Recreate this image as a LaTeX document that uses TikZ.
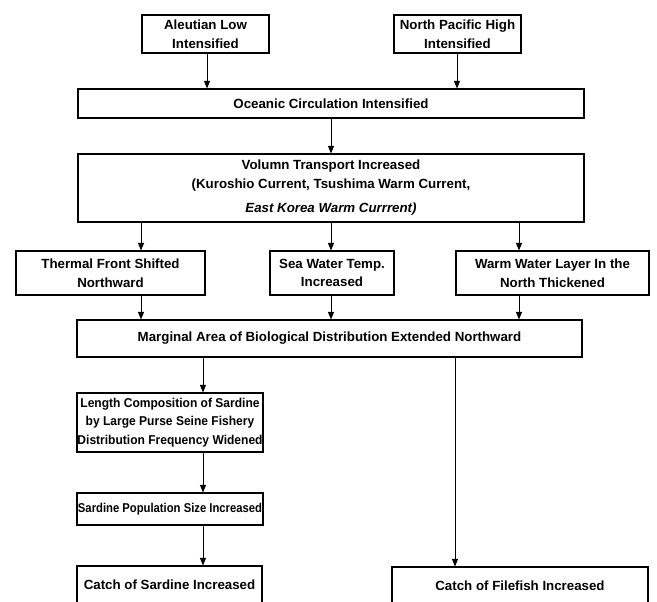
\documentclass[tikz,border=0pt]{standalone}
\usepackage{fontspec}
\setmainfont{Liberation Sans}
\newfontfamily\condfont[FakeStretch=0.88]{Liberation Sans}
\newfontfamily\condfontb[FakeStretch=0.94]{Liberation Sans}
\usetikzlibrary{arrows.meta}
\begin{document}
\begin{tikzpicture}[x=1pt,y=-1pt,
  box/.style={draw, line width=1.1pt, align=center, inner sep=0pt,
    font=\fontsize{13.3}{18.5}\selectfont\bfseries},
  small/.style={font=\condfont\fontsize{12.8}{18.5}\selectfont\bfseries},
  smallb/.style={font=\condfontb\fontsize{12.8}{18.5}\selectfont\bfseries},
  arr/.style={line width=0.9pt, -{Triangle[length=7.5pt,width=6pt]}}]
\clip (0,0) rectangle (657,602);
\fill[white] (0,0) rectangle (657,602);
% nodes
\node[box, minimum width=127, minimum height=38] (aleut) at (205.5,34) {Aleutian Low\\Intensified};
\node[box, minimum width=127, minimum height=38] (nph) at (457.5,34) {North Pacific High\\Intensified};
\node[box, minimum width=506, minimum height=29] (ocean) at (331,103.5) {Oceanic Circulation Intensified};
\node[box, minimum width=506, minimum height=68] (vol) at (331,188) {Volumn Transport Increased\\(Kuroshio Current, Tsushima Warm Current,\\[6pt]\itshape East Korea Warm Currrent)};
\node[box, minimum width=189, minimum height=44] (thermal) at (110.5,273) {Thermal Front Shifted\\Northward};
\node[box, minimum width=124, minimum height=44] (sea) at (332,273) {Sea Water Temp.\\Increased};
\node[box, minimum width=193, minimum height=44] (warm) at (552.5,273) {Warm Water Layer In the\\North Thickened};
\node[box, minimum width=505, minimum height=37] (marg) at (329.5,338.5) {Marginal Area of Biological Distribution Extended Northward};
\node[box, smallb, minimum width=186, minimum height=59] (len) at (170,422.5) {Length Composition of Sardine\\by Large Purse Seine Fishery\\Distribution Frequency Widened};
\node[box, small, minimum width=186, minimum height=32] (pop) at (170,509) {Sardine Population Size Increased};
\node[box, minimum width=185, minimum height=38] (catchS) at (169.5,585) {Catch of Sardine Increased};
\node[box, minimum width=256, minimum height=38] (catchF) at (520,586) {Catch of Filefish Increased};
% arrow lines
\coordinate (xa) at (141,0);
\coordinate (xb) at (331,0);
\coordinate (xc) at (519,0);
\coordinate (xd) at (203,0);
\coordinate (xe) at (455,0);
\coordinate (xf) at (207,0);
\coordinate (xg) at (457,0);
\draw[arr] (aleut.south -| xf) -- (ocean.north -| xf);
\draw[arr] (nph.south -| xg) -- (ocean.north -| xg);
\draw[arr] (ocean.south -| xb) -- (vol.north -| xb);
\draw[arr] (vol.south -| xa) -- (thermal.north -| xa);
\draw[arr] (vol.south -| xb) -- (sea.north -| xb);
\draw[arr] (vol.south -| xc) -- (warm.north -| xc);
\draw[arr] (thermal.south -| xa) -- (marg.north -| xa);
\draw[arr] (sea.south -| xb) -- (marg.north -| xb);
\draw[arr] (warm.south -| xc) -- (marg.north -| xc);
\draw[arr] (marg.south -| xd) -- (len.north -| xd);
\draw[arr] (len.south -| xd) -- (pop.north -| xd);
\draw[arr] (pop.south -| xd) -- (catchS.north -| xd);
\draw[arr] (marg.south -| xe) -- (catchF.north -| xe);
\end{tikzpicture}
\end{document}
